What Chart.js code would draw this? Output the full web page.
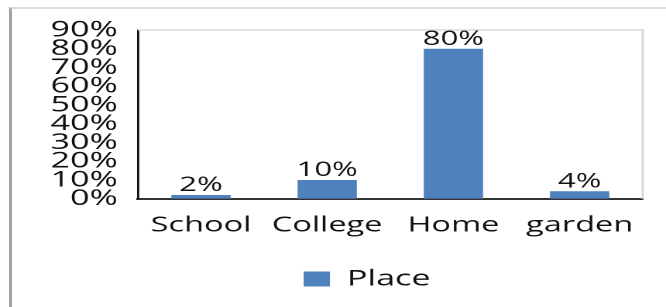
<!DOCTYPE html>
<html>
<head>
<meta charset="utf-8">
<script src="https://cdn.jsdelivr.net/npm/chart.js@4/dist/chart.umd.min.js"></script>
<style>
  html, body { margin: 0; padding: 0; background: #fff; overflow: hidden; }
  #stage { position: relative; width: 666px; height: 307px; overflow: hidden; }
  #frame { position: absolute; left: 9px; top: 7px; width: 700px; height: 400px;
           border-top: 2px solid #dcdcdc; border-left: 3px solid #a3a3a3; box-sizing: border-box; }
  #wrap { position: absolute; left: 0; top: 0; width: 430px; height: 307px;
          transform: scaleX(1.5488); transform-origin: 0 0; }
</style>
</head>
<body>
<div id="stage">
  <div id="frame"></div>
  <div id="wrap"><canvas id="c" width="430" height="307"></canvas></div>
</div>
<script>
const categories = ['School', 'College', 'Home', 'garden'];
const placeValues = [2, 10, 80, 4];
const yTicks = [0, 10, 20, 30, 40, 50, 60, 70, 80, 90];
const seriesName = 'Place';

const FONT = "'Open Sans', 'Noto Sans', sans-serif";
const BAR = '#4f81bd';

const plotFrame = {
  id: 'plotFrame',
  beforeDatasetsDraw(chart) {
    const a = chart.chartArea, ctx = chart.ctx;
    ctx.save();
    ctx.strokeStyle = '#d9d9d9';
    ctx.lineWidth = 1.6;
    ctx.beginPath();
    ctx.moveTo(a.left, a.top);
    ctx.lineTo(a.right, a.top);
    ctx.lineTo(a.right, a.bottom);
    ctx.stroke();
    ctx.restore();
  }
};

const valueLabels = {
  id: 'valueLabels',
  afterDatasetsDraw(chart) {
    const ctx = chart.ctx;
    const meta = chart.getDatasetMeta(0);
    ctx.save();
    ctx.font = '20px ' + FONT;
    ctx.fillStyle = '#111';
    ctx.textAlign = 'center';
    ctx.textBaseline = 'alphabetic';
    meta.data.forEach((el, i) => {
      ctx.fillText(placeValues[i] + '%', el.x, el.y - 4);
    });
    ctx.restore();
  }
};

new Chart(document.getElementById('c'), {
  type: 'bar',
  data: {
    labels: categories,
    datasets: [{
      label: seriesName,
      data: placeValues,
      backgroundColor: BAR,
      borderWidth: 0,
      barPercentage: 0.47,
      categoryPercentage: 1
    }]
  },
  options: {
    responsive: false,
    animation: false,
    devicePixelRatio: 2,
    layout: { padding: { left: 32, right: -12, top: 30, bottom: 7 } },
    plugins: {
      tooltip: { enabled: false },
      legend: {
        position: 'bottom',
        labels: {
          font: { family: FONT, size: 22 },
          color: '#111',
          boxWidth: 17,
          boxHeight: 15,
          padding: 16
        }
      }
    },
    scales: {
      x: {
        grid: { display: false, drawTicks: false },
        border: { display: true, color: '#333', width: 2 },
        ticks: { font: { family: FONT, size: 21 }, color: '#111', padding: 14, maxRotation: 0, autoSkip: false }
      },
      y: {
        min: 0, max: 90,
        afterBuildTicks: s => { s.ticks = yTicks.map(v => ({ value: v })); },
        afterFit: s => { s.width = 57; },
        grid: { display: false, drawTicks: false },
        border: { display: true, color: '#111', width: 1.4 },
        ticks: {
          font: { family: FONT, size: 22, lineHeight: 0.85 },
          color: '#111',
          padding: 13,
          autoSkip: false,
          callback: v => v + '%'
        }
      },
      yR: {
        type: 'linear',
        position: 'right',
        display: true,
        afterFit: s => { s.width = 27; },
        grid: { display: false, drawTicks: false },
        border: { display: false },
        ticks: { display: false }
      }
    }
  },
  plugins: [plotFrame, valueLabels]
});
</script>
</body>
</html>
